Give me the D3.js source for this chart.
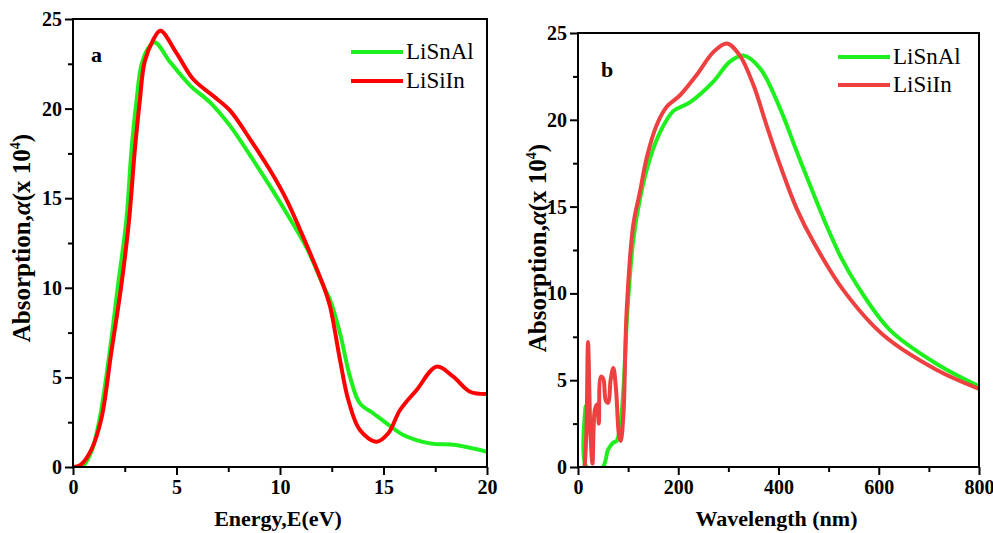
<!DOCTYPE html>
<html>
<head>
<meta charset="utf-8">
<script src="https://cdn.jsdelivr.net/npm/d3@7"></script>
<style>
  body { margin: 0; background: #fff; }
  svg text { font-family: "Liberation Serif", "Times New Roman", serif; }
</style>
</head>
<body>
<svg id="chart" width="993" height="533"></svg>
<script>
// panel a: absorption vs energy (eV)
const energyGreen = [[0,0],[0.48,0.07],[0.9,0.9],[1.29,2.7],[1.77,6.4],[2.17,10.1],[2.58,13.8],[2.82,17.6],[3.06,20.35],[3.3,22.4],[3.62,23.35],[3.95,23.7],[4.69,22.6],[5.65,21.3],[6.62,20.35],[7.58,19.05],[8.55,17.4],[9.5,15.7],[10.3,14.2],[11.3,12.2],[12.1,10.1],[12.42,9.32],[12.9,7.46],[13.38,5.04],[13.86,3.55],[14.5,3.0],[15.15,2.44],[15.96,1.79],[17.25,1.32],[18.5,1.23],[20,0.85]];
const energyRed = [[0,0],[0.35,0.1],[0.9,1.0],[1.37,2.7],[1.85,6.4],[2.33,10.1],[2.71,13.8],[2.98,17.6],[3.22,20.35],[3.46,22.6],[3.86,23.8],[4.22,24.35],[5.0,23.1],[5.8,21.65],[6.78,20.7],[7.58,19.9],[8.55,18.3],[9.5,16.6],[10.3,14.95],[11.3,12.35],[12.1,10.1],[12.42,8.95],[12.9,5.97],[13.3,3.74],[13.86,2.06],[14.67,1.41],[15.23,1.88],[15.8,3.18],[16.6,4.3],[17.57,5.6],[18.37,5.04],[19.18,4.2],[20,4.07]];

// panel b: absorption vs wavelength (nm)
const waveGreen = [[13,0],[15,3.5],[17,0],[49,0],[60,1.0],[70,1.4],[77,1.5],[84,2.3],[90.6,4.5],[98.6,9],[110,13],[124,15.5],[144,17.8],[164,19.3],[190,20.5],[223,21.0],[270,22.2],[303,23.35],[330,23.7],[363,22.97],[403,20.66],[436,18.2],[469,15.8],[496,13.9],[526,12.0],[556,10.5],[622,7.9],[715,5.95],[800,4.65]];
const waveRed = [[13.4,0],[16.8,2],[20,7.2],[24.8,2],[28.9,0.2],[33.6,3.3],[38,3.6],[41.6,2.5],[45.6,5.2],[50.3,5.1],[55.7,3.8],[60.4,3.7],[65,5.0],[70.5,5.7],[75.8,4.5],[81.9,1.8],[85.2,1.5],[90.6,3],[97,8.95],[110,13.9],[124,15.9],[137,17.8],[157,19.7],[177,20.75],[203,21.4],[237,22.6],[270,23.9],[297,24.4],[323,23.7],[350,22.0],[376,19.7],[403,17.4],[436,14.9],[469,13.0],[529,10.2],[609,7.6],[715,5.6],[800,4.5]];

const seriesNames = ["LiSnAl", "LiSiIn"];
const yTicks = [0, 5, 10, 15, 20, 25];

const svg = d3.select("#chart");

function drawPanel(opt) {
  const x = d3.scaleLinear().domain(opt.xDomain).range([opt.left, opt.right]);
  const y = d3.scaleLinear().domain([0, 25]).range([opt.bottom, opt.top]);
  const g = svg.append("g");

  const clipId = "clip-" + opt.tag;
  g.append("clipPath").attr("id", clipId).append("rect")
    .attr("x", opt.left).attr("y", opt.top)
    .attr("width", opt.right - opt.left).attr("height", opt.bottom - opt.top);

  const line = d3.line().x(d => x(d[0])).y(d => y(Math.max(0, d[1]))).curve(d3.curveCatmullRom.alpha(0.5));
  opt.series.forEach((s, i) => {
    g.append("path").datum(s).attr("d", line)
      .attr("fill", "none").attr("stroke", opt.colors[i]).attr("stroke-width", 4)
      .attr("stroke-linejoin", "round").attr("clip-path", `url(#${clipId})`);
  });

  // minor ticks
  g.append("g").attr("transform", `translate(0,${opt.bottom})`)
    .call(d3.axisBottom(x).tickValues(opt.xMinor).tickSize(5).tickFormat(""))
    .call(a => a.select(".domain").remove())
    .call(a => a.selectAll("line").attr("stroke-width", 2));
  g.append("g").attr("transform", `translate(${opt.left},0)`)
    .call(d3.axisLeft(y).tickValues([2.5, 7.5, 12.5, 17.5, 22.5]).tickSize(5).tickFormat(""))
    .call(a => a.select(".domain").remove())
    .call(a => a.selectAll("line").attr("stroke-width", 2));

  // major ticks
  const xa = g.append("g").attr("transform", `translate(0,${opt.bottom})`)
    .call(d3.axisBottom(x).tickValues(opt.xTicks).tickSize(8).tickPadding(5));
  const ya = g.append("g").attr("transform", `translate(${opt.left},0)`)
    .call(d3.axisLeft(y).tickValues(yTicks).tickSize(8).tickPadding(3));
  [xa, ya].forEach(a => {
    a.select(".domain").remove();
    a.selectAll("line").attr("stroke-width", 2);
    a.selectAll("text").attr("font-size", 20).attr("font-weight", "bold")
      .attr("font-family", "Liberation Serif, serif").attr("fill", "#000");
  });

  g.append("rect").attr("x", opt.left).attr("y", opt.top)
    .attr("width", opt.right - opt.left).attr("height", opt.bottom - opt.top)
    .attr("fill", "none").attr("stroke", "#000").attr("stroke-width", 2);

  // axis titles
  g.append("text").attr("x", (opt.left + opt.right) / 2 - 2).attr("y", 526)
    .attr("text-anchor", "middle").attr("font-size", 22).attr("font-weight", "bold")
    .text(opt.xTitle);
  const yt = g.append("text")
    .attr("transform", `translate(${opt.yTitleX},${opt.yTitleY}) rotate(-90)`)
    .attr("text-anchor", "middle").attr("font-size", 25).attr("font-weight", "bold");
  yt.append("tspan").text("Absorption,");
  yt.append("tspan").attr("font-style", "italic").text("α");
  yt.append("tspan").text("(x 10");
  yt.append("tspan").attr("font-size", 14).attr("dy", -10).text("4");
  yt.append("tspan").attr("dy", 10).text(")");

  // panel letter
  g.append("text").attr("x", opt.letterX).attr("y", opt.letterY)
    .attr("font-size", 22).attr("font-weight", "bold").text(opt.letter);

  // legend
  seriesNames.forEach((name, i) => {
    const ly = opt.legendY + i * opt.legendGap;
    g.append("line").attr("x1", opt.legendX).attr("x2", opt.legendX + 52)
      .attr("y1", ly).attr("y2", ly).attr("stroke", opt.colors[i]).attr("stroke-width", 4);
    g.append("text").attr("x", opt.legendX + 55).attr("y", ly + 7)
      .attr("font-size", 23).text(name);
  });
}

drawPanel({
  tag: "a", left: 73, right: 487, top: 19, bottom: 467,
  xDomain: [0, 20], xTicks: [0, 5, 10, 15, 20], xMinor: [2.5, 7.5, 12.5, 17.5],
  series: [energyGreen, energyRed], colors: ["#1ef01e", "#ff0000"],
  xTitle: "Energy,E(eV)", yTitleX: 30, yTitleY: 238,
  letter: "a", letterX: 91, letterY: 62,
  legendX: 351, legendY: 52, legendGap: 29
});

drawPanel({
  tag: "b", left: 578, right: 979, top: 33, bottom: 467,
  xDomain: [0, 800], xTicks: [0, 200, 400, 600, 800], xMinor: [100, 300, 500, 700],
  series: [waveGreen, waveRed], colors: ["#1ef01e", "#ee4040"],
  xTitle: "Wavelength (nm)", yTitleX: 546, yTitleY: 248,
  letter: "b", letterX: 601, letterY: 77,
  legendX: 838, legendY: 57, legendGap: 28
});
</script>
</body>
</html>
